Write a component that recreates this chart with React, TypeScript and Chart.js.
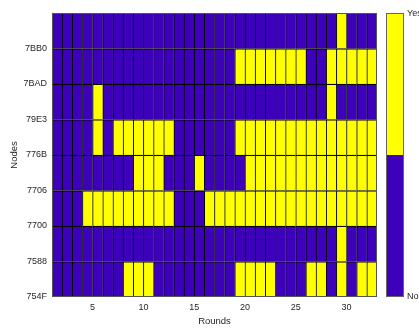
import React, { useEffect, useRef } from 'react';
import { Chart, registerables } from 'chart.js';

Chart.register(...registerables);

// Rounds (cell k spans round k .. k+1)
const rounds = [1, 2, 3, 4, 5, 6, 7, 8, 9, 10, 11, 12, 13, 14, 15, 16, 17, 18, 19, 20, 21, 22, 23, 24, 25, 26, 27, 28, 29, 30, 31, 32];
const roundTicks = [5, 10, 15, 20, 25, 30];

// Node tick labels, bottom to top
const nodeLabels = ['754F', '7588', '7700', '7706', '776B', '79E3', '7BAD', '7BB0'];

// 1 = Yes, 0 = No ; one value per round
const row754F = [0, 0, 0, 0, 0, 0, 0, 1, 1, 1, 0, 0, 0, 0, 0, 0, 0, 0, 1, 1, 1, 1, 0, 0, 0, 1, 1, 0, 1, 0, 1, 1];
const row7588 = [0, 0, 0, 0, 0, 0, 0, 0, 0, 0, 0, 0, 0, 0, 0, 0, 0, 0, 0, 0, 0, 0, 0, 0, 0, 0, 0, 0, 1, 0, 0, 0];
const row7700 = [0, 0, 0, 1, 1, 1, 1, 1, 1, 1, 1, 1, 0, 0, 0, 1, 1, 1, 1, 1, 1, 1, 1, 1, 1, 1, 1, 1, 1, 1, 1, 1];
const row7706 = [0, 0, 0, 0, 0, 0, 0, 0, 1, 1, 1, 0, 0, 0, 1, 0, 0, 0, 0, 1, 1, 1, 1, 1, 1, 1, 1, 1, 1, 1, 1, 1];
const row776B = [0, 0, 0, 0, 1, 0, 1, 1, 1, 1, 1, 1, 0, 0, 0, 0, 0, 0, 1, 1, 1, 1, 1, 1, 1, 1, 1, 1, 1, 1, 1, 1];
const row79E3 = [0, 0, 0, 0, 1, 0, 0, 0, 0, 0, 0, 0, 0, 0, 0, 0, 0, 0, 0, 0, 0, 0, 0, 0, 0, 0, 0, 1, 0, 0, 0, 0];
const row7BAD = [0, 0, 0, 0, 0, 0, 0, 0, 0, 0, 0, 0, 0, 0, 0, 0, 0, 0, 1, 1, 1, 1, 1, 1, 1, 0, 0, 1, 1, 1, 1, 1];
const row7BB0 = [0, 0, 0, 0, 0, 0, 0, 0, 0, 0, 0, 0, 0, 0, 0, 0, 0, 0, 0, 0, 0, 0, 0, 0, 0, 0, 0, 0, 1, 0, 0, 0];

const nodeRows = [row754F, row7588, row7700, row7706, row776B, row79E3, row7BAD, row7BB0];

// Colorbar states, bottom to top
const stateLabels = ['No', 'Yes'];
const stateColors = ['#3d00bb', '#ffff00'];

const FONT = "'Liberation Sans', Arial, Helvetica, sans-serif";
const TEXT = '#262626';

const framePlugin = {
  id: 'frameAndColorbar',
  afterDatasetsDraw(chart: any) {
    const { ctx, chartArea: a } = chart;
    ctx.save();
    ctx.strokeStyle = '#555555';
    ctx.lineWidth = 1;
    ctx.strokeRect(a.left + 0.5, a.top + 0.5, a.right - a.left - 1, a.bottom - a.top - 1);

    // colorbar
    const cbL = Math.round(a.right + 9);
    const cbW = 18;
    const h = (a.bottom - a.top) / stateColors.length;
    stateColors.forEach((c, i) => {
      ctx.fillStyle = c;
      ctx.fillRect(cbL, a.bottom - (i + 1) * h, cbW, h);
    });
    ctx.strokeStyle = '#666666';
    ctx.strokeRect(cbL + 0.5, a.top + 0.5, cbW - 1, a.bottom - a.top - 1);
    ctx.fillStyle = TEXT;
    ctx.font = `9px ${FONT}`;
    ctx.textBaseline = 'middle';
    ctx.textAlign = 'left';
    ctx.fillText(stateLabels[0], cbL + cbW + 3, a.bottom);
    ctx.fillText(stateLabels[stateLabels.length - 1], cbL + cbW + 3, a.top + 1);
    ctx.restore();
  },
};

export default function App() {
  const ref = useRef<HTMLCanvasElement | null>(null);

  useEffect(() => {
    if (!ref.current) return;
    const datasets = nodeRows.map((row, r) => ({
      label: nodeLabels[r],
      data: rounds.map((rd) => ({ x: rd + 0.5, y: [r + 1, r + 2] })),
      backgroundColor: row.map((v) => stateColors[v]),
      borderColor: '#000000',
      borderWidth: { left: 1, top: 1.3, right: 0, bottom: 0 },
      borderSkipped: false,
      grouped: false,
      barPercentage: 1,
      categoryPercentage: 1,
    }));

    const chart = new Chart(ref.current, {
      type: 'bar',
      data: { datasets: datasets as any },
      options: {
        animation: false,
        responsive: false,
        events: [],
        layout: { padding: { left: 0, right: 42, top: 13, bottom: 0 } },
        plugins: { legend: { display: false }, tooltip: { enabled: false } },
        scales: {
          x: {
            type: 'linear',
            min: rounds[0],
            max: rounds[rounds.length - 1] + 1,
            offset: false,
            grid: { display: false, offset: false, drawTicks: false },
            border: { display: false },
            afterBuildTicks: (s: any) => {
              s.ticks = roundTicks.map((v) => ({ value: v }));
            },
            afterFit: (s: any) => {
              s.height = 34;
            },
            ticks: {
              autoSkip: false,
              maxRotation: 0,
              padding: 5,
              color: TEXT,
              font: { family: FONT, size: 9 },
              callback: (v: any) => String(v),
            },
            title: {
              display: true,
              text: 'Rounds',
              color: TEXT,
              font: { family: FONT, size: 9.5 },
              padding: { top: 4, bottom: 4 },
            },
          },
          y: {
            type: 'linear',
            min: 1,
            max: nodeLabels.length + 1,
            grid: { display: false, drawTicks: false },
            border: { display: false },
            afterBuildTicks: (s: any) => {
              s.ticks = [...nodeLabels, ''].map((_, i) => ({ value: i + 1 }));
            },
            afterFit: (s: any) => {
              s.width = 52;
            },
            ticks: {
              autoSkip: false,
              padding: 5,
              color: TEXT,
              font: { family: FONT, size: 9 },
              callback: (v: any) => nodeLabels[Number(v) - 1] ?? '',
            },
            title: {
              display: true,
              text: 'Nodes',
              color: TEXT,
              font: { family: FONT, size: 9.5 },
              padding: { top: 9, bottom: 0 },
            },
          },
        },
      } as any,
      plugins: [framePlugin],
    });
    return () => chart.destroy();
  }, []);

  return (
    <div style={{ position: 'absolute', left: 0, top: 0, width: 419, height: 331, background: '#ffffff' }}>
      <canvas ref={ref} width={419} height={331} style={{ display: 'block' }} />
    </div>
  );
}
